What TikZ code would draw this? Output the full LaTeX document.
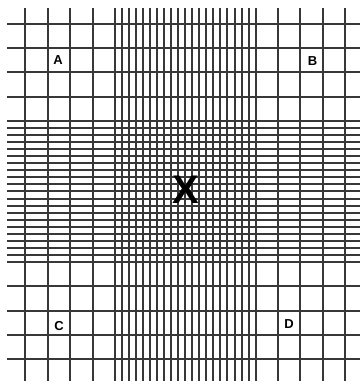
\documentclass[tikz,border=0pt]{standalone}
\usepackage{fontspec}
\setmainfont{Liberation Sans}
\begin{document}
\begin{tikzpicture}[x=1pt,y=-1pt,
  gridline/.style={line width=2pt,color=black!78},
  corner/.style={font=\bfseries\fontsize{13}{13}\selectfont,inner sep=0pt},
  centre/.style={font=\bfseries\fontsize{40}{40}\selectfont,inner sep=0pt}]
\useasboundingbox (0,0) rectangle (360,381);
% vertical lines
\foreach \x in {25,48,70,93,115,122,129,136,143,150,157,164,171,178,185,192,199,206,213,220,227,235,242,249,256,278,300,323,345}
  \draw[gridline] (\x,8) -- (\x,381);
% horizontal lines
\foreach \y in {24,48,72,97,121,128,135,142,149,156,163,170,177,184,191,199,206,213,220,227,234,241,248,255,262,286,311,335,359}
  \draw[gridline] (7,\y) -- (360,\y);
% labels
\node[corner] (A) at (58,60.5) {A};
\node[corner] (B) at (312.5,61) {B};
\node[corner] (C) at (59,326) {C};
\node[corner] (D) at (289,324.5) {D};
\node[centre] (X) at (186,190) {X};
\end{tikzpicture}
\end{document}
